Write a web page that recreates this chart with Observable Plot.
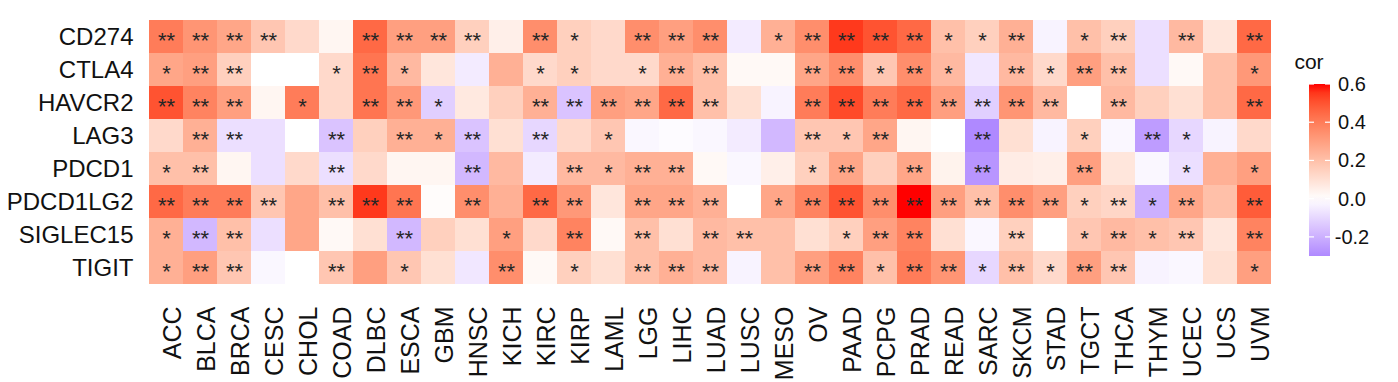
<!DOCTYPE html>
<html>
<head>
<meta charset="utf-8">
<script src="https://cdn.jsdelivr.net/npm/d3@7"></script>
<script src="https://cdn.jsdelivr.net/npm/@observablehq/plot@0.6"></script>
<style>
  html, body { margin: 0; padding: 0; background: #fff; }
  #chart { position: relative; width: 1398px; height: 382px; }
</style>
</head>
<body>
<div id="chart"></div>
<script>
const cancers = ["ACC","BLCA","BRCA","CESC","CHOL","COAD","DLBC","ESCA","GBM","HNSC","KICH","KIRC","KIRP","LAML","LGG","LIHC","LUAD","LUSC","MESO","OV","PAAD","PCPG","PRAD","READ","SARC","SKCM","STAD","TGCT","THCA","THYM","UCEC","UCS","UVM"];
const genes = ["CD274","CTLA4","HAVCR2","LAG3","PDCD1","PDCD1LG2","SIGLEC15","TIGIT"];

const corCD274    = [0.40,0.33,0.28,0.18,0.12,0.03,0.45,0.30,0.30,0.15,0.05,0.35,0.15,0.12,0.35,0.30,0.35,-0.05,0.25,0.35,0.55,0.50,0.45,0.20,0.15,0.25,-0.03,0.20,0.15,-0.08,0.22,0.08,0.45];
const corCTLA4    = [0.28,0.30,0.15,0.00,0.00,0.12,0.42,0.22,0.08,-0.05,0.25,0.12,0.15,0.12,0.12,0.25,0.20,0.02,0.02,0.28,0.35,0.18,0.35,0.22,-0.06,0.22,0.12,0.30,0.20,-0.08,0.02,0.20,0.32];
const corHAVCR2   = [0.50,0.38,0.30,0.03,0.40,0.12,0.42,0.32,-0.12,0.07,0.15,0.25,-0.15,0.30,0.28,0.45,0.20,0.10,-0.03,0.40,0.52,0.40,0.45,0.30,-0.12,0.33,0.22,0.00,0.22,0.15,0.10,0.20,0.45];
const corLAG3     = [0.12,0.25,-0.08,-0.08,0.00,-0.15,0.15,0.25,0.25,-0.15,0.10,-0.10,0.12,0.18,-0.02,-0.01,-0.02,-0.05,-0.18,0.18,0.18,0.28,0.03,0.00,-0.30,0.10,-0.03,0.15,-0.02,-0.25,-0.10,-0.03,0.12];
const corPDCD1    = [0.20,0.20,0.03,-0.08,0.12,-0.08,0.12,0.03,0.03,-0.18,0.22,-0.05,0.22,0.22,0.25,0.25,0.02,-0.02,0.05,0.15,0.28,0.15,0.28,0.04,-0.27,0.06,0.05,0.30,0.08,-0.02,-0.08,0.25,0.30];
const corPDCD1LG2 = [0.45,0.40,0.40,0.18,0.28,0.20,0.55,0.42,0.01,0.35,0.25,0.45,0.32,0.08,0.28,0.28,0.25,0.00,0.28,0.38,0.50,0.35,0.60,0.30,0.20,0.35,0.30,0.15,0.13,-0.20,0.28,0.20,0.48];
const corSIGLEC15 = [0.25,-0.18,0.20,-0.08,0.28,0.02,0.10,-0.18,0.15,0.10,0.30,0.12,0.38,0.02,0.20,0.10,0.22,0.20,0.20,0.10,0.15,0.30,0.38,0.10,-0.02,0.15,0.00,0.18,0.22,0.20,0.18,0.08,0.38];
const corTIGIT    = [0.25,0.30,0.18,-0.02,0.00,0.18,0.30,0.18,0.10,-0.06,0.35,0.02,0.15,0.10,0.20,0.25,0.22,-0.03,0.20,0.30,0.38,0.20,0.40,0.33,-0.10,0.20,0.12,0.30,0.18,-0.03,-0.02,0.10,0.30];

const sigCD274    = ["**","**","**","**","","","**","**","**","**","","**","*","","**","**","**","","*","**","**","**","**","*","*","**","","*","**","","**","","**"];
const sigCTLA4    = ["*","**","**","","","*","**","*","","","","*","*","","*","**","**","","","**","**","*","**","*","","**","*","**","**","","","","*"];
const sigHAVCR2   = ["**","**","**","","*","","**","**","*","","","**","**","**","**","**","**","","","**","**","**","**","**","**","**","**","","**","","","","**"];
const sigLAG3     = ["","**","**","","","**","","**","*","**","","**","","*","","","","","","**","*","**","","","**","","","*","","**","*","",""];
const sigPDCD1    = ["*","**","","","","**","","","","**","","","**","*","**","**","","","","*","**","","**","","**","","","**","","","*","","*"];
const sigPDCD1LG2 = ["**","**","**","**","","**","**","**","","**","","**","**","","**","**","**","","*","**","**","**","**","**","**","**","**","*","**","*","**","","**"];
const sigSIGLEC15 = ["*","**","**","","","","","**","","","*","","**","","**","","**","**","","","*","**","**","","","**","","*","**","*","**","","**"];
const sigTIGIT    = ["*","**","**","","","**","","*","","","**","","*","","**","**","**","","","**","**","*","**","**","*","**","*","**","**","","","","*"];

const legendTicks = [-0.2, 0.0, 0.2, 0.4, 0.6];
const legendTitle = "cor";

const corRows = [corCD274, corCTLA4, corHAVCR2, corLAG3, corPDCD1, corPDCD1LG2, corSIGLEC15, corTIGIT];
const sigRows = [sigCD274, sigCTLA4, sigHAVCR2, sigLAG3, sigPDCD1, sigPDCD1LG2, sigSIGLEC15, sigTIGIT];

const table = [];
genes.forEach((g, i) => cancers.forEach((c, j) => {
  table.push({gene: g, cancer: c, cor: corRows[i][j], sig: sigRows[i][j]});
}));

const ext = d3.extent(table, d => d.cor);
const maxAbs = Math.max(Math.abs(ext[0]), Math.abs(ext[1]));
const font = "'Liberation Sans', Arial, Helvetica, sans-serif";

const chart = Plot.plot({
  width: 1398,
  height: 382,
  marginLeft: 147,
  marginRight: 126,
  marginTop: 16,
  marginBottom: 95,
  style: {fontFamily: font, background: "white"},
  x: {type: "band", domain: cancers, padding: 0, axis: null},
  y: {type: "band", domain: genes, padding: 0, axis: null},
  color: {type: "linear", domain: [-maxAbs, 0, maxAbs], range: ["blue", "white", "red"], interpolate: "lab"},
  marks: [
    Plot.cell(table, {x: "cancer", y: "gene", fill: "cor"}),
    Plot.text(table.filter(d => d.sig), {x: "cancer", y: "gene", text: "sig", fontSize: 22, fill: "#262626", dy: 4}),
    Plot.axisY({tickSize: 0, tickPadding: 14, fontSize: 24, color: "#111", label: null}),
    Plot.text(cancers, {x: d => d, frameAnchor: "bottom", rotate: -90, textAnchor: "end", dy: 19, dx: 14, fontSize: 25, fill: "#111"})
  ]
});

document.getElementById("chart").appendChild(chart);

// vertical colour bar legend built from the plot's colour scale
const color = chart.scale("color");
const colorFn = Plot.scale({color});
const svg = d3.select(chart);
const barX = 1309, barW = 21, barTop = 84, barBottom = 256;
const yL = d3.scaleLinear().domain([ext[0], ext[1]]).range([barBottom, barTop]);
const defs = svg.append("defs");
const grad = defs.append("linearGradient").attr("id", "corgrad").attr("x1", 0).attr("x2", 0).attr("y1", 1).attr("y2", 0);
d3.range(0, 21).forEach(k => {
  const v = ext[0] + (ext[1] - ext[0]) * k / 20;
  grad.append("stop").attr("offset", (k / 20 * 100) + "%").attr("stop-color", colorFn.apply(v));
});
const lg = svg.append("g").attr("font-family", font);
lg.append("text").attr("x", barX).attr("y", 69).attr("font-size", 21).attr("fill", "#111").text(legendTitle);
lg.append("rect").attr("x", barX).attr("y", barTop).attr("width", barW).attr("height", barBottom - barTop).attr("fill", "url(#corgrad)");
legendTicks.forEach(t => {
  const y = yL(t);
  lg.append("line").attr("x1", barX).attr("x2", barX + 5).attr("y1", y).attr("y2", y).attr("stroke", "white").attr("stroke-width", 1.2);
  lg.append("line").attr("x1", barX + barW - 5).attr("x2", barX + barW).attr("y1", y).attr("y2", y).attr("stroke", "white").attr("stroke-width", 1.2);
  lg.append("text").attr("x", barX + barW + 22).attr("y", y).attr("dy", "0.35em").attr("font-size", 20).attr("fill", "#111").text(t.toFixed(1));
});
</script>
</body>
</html>
